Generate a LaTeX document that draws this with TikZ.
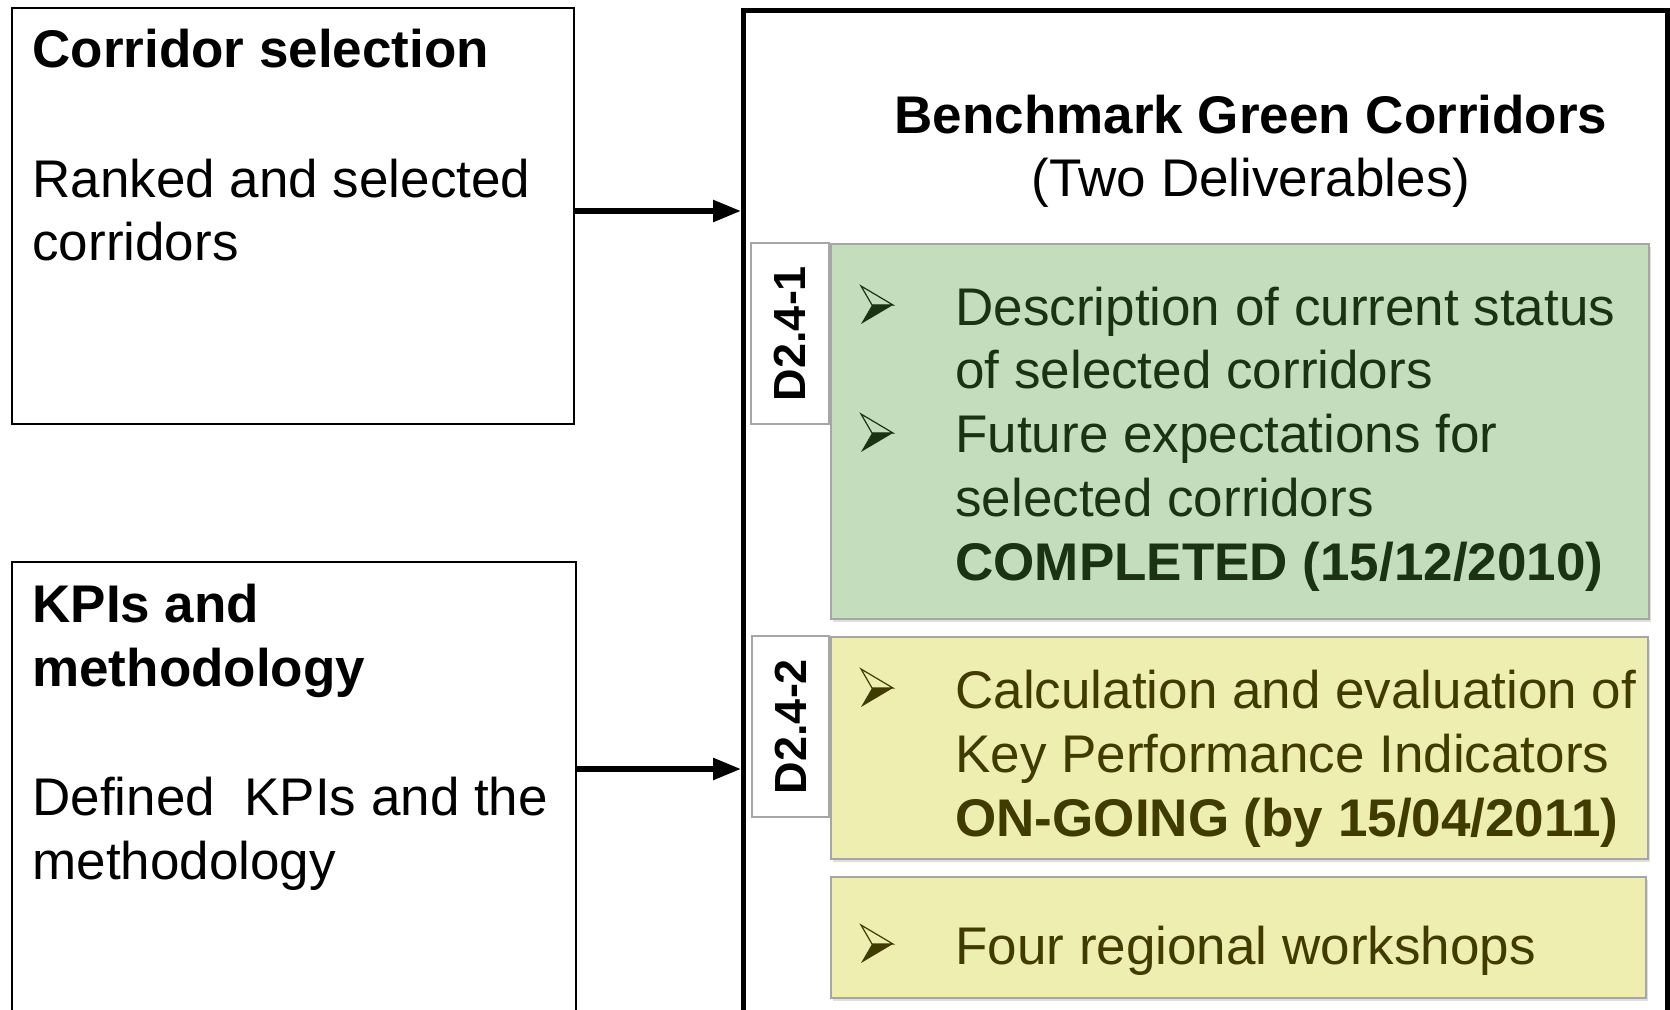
\documentclass[tikz,border=0pt]{standalone}
\usepackage{fontspec}
\setmainfont{Liberation Sans}
\usetikzlibrary{arrows.meta,shadows}

\definecolor{greenfill}{HTML}{C4DDBC}
\definecolor{greentext}{HTML}{1B3312}
\definecolor{yellowfill}{HTML}{EEEEB0}
\definecolor{yellowtext}{HTML}{403C00}
\definecolor{boxgray}{HTML}{A6A6A6}

\newcommand{\bigfont}{\fontsize{26.5pt}{31.8pt}\selectfont}
\newcommand{\tabfont}{\fontsize{22.5pt}{27pt}\selectfont\bfseries}

\tikzset{
  inbox/.style={draw, line width=1pt, anchor=north west, inner sep=0pt},
  outbox/.style={draw, line width=2.5pt, anchor=north west, inner sep=0pt},
  delbox/.style={draw=boxgray, line width=1pt, anchor=north west, inner sep=0pt,
    drop shadow={shadow xshift=1pt, shadow yshift=-1.5pt, opacity=.25}},
  tabbox/.style={draw=boxgray, fill=white, line width=1pt, inner sep=0pt,
    rotate=90, font=\tabfont},
  % base = baseline of the last line
  txt/.style={anchor=base west, inner sep=0pt, align=left, font=\bigfont},
  flow/.style={line width=2.8pt, -{Triangle[length=14pt, width=10.5pt]}},
  bul/.pic={
    \draw[line width=0.6pt, line join=miter] (0,-39) -- (32,-20) -- (11,-20) -- cycle;
    \fill (11,-20) -- (32,-20) -- (0,-1) -- cycle;
  }
}

\begin{document}
\begin{tikzpicture}[x=0.5pt, y=-0.5pt]
  \path[use as bounding box, clip] (0,0) rectangle (1670,1010);

  % LEFT BOXES
  \node[inbox, minimum width=281pt, minimum height=208pt] (corsel) at (11,7) {};
  \node[inbox, minimum width=282pt, minimum height=250pt] (kpi) at (11,561) {};

  \node[txt] (corseltitle) at (32,68) {\bfseries Corridor selection};
  \node[txt] (corseltext) at (32,261) {Ranked and selected\\corridors};
  \node[txt] (kpititle) at (32,686) {\bfseries KPIs and\\\bfseries methodology};
  \node[txt] (kpitext) at (32,879) {Defined\ \ KPIs and the\\methodology};

  % BIG BOX
  \node[outbox, minimum width=462pt, minimum height=520pt] (bench) at (741,8) {};
  \node[inner sep=0pt, anchor=base, align=center, font=\bigfont] (benchtitle) at (1251,197)
    {\bfseries Benchmark Green Corridors\\(Two Deliverables)};

  % D2.4-1
  \node[tabbox, minimum width=90.5pt, minimum height=39pt] (d241) at (790,333.5) {D2.4-1};
  \node[delbox, fill=greenfill, minimum width=409pt, minimum height=187.5pt] (status) at (830,243) {};
  \pic[color=greentext] at (861,325) {bul};
  \pic[color=greentext] at (861,453) {bul};
  \node[txt, text=greentext] (statustext) at (955,389) {Description of current status\\of selected corridors};
  \node[txt, text=greentext] (futuretext) at (955,580) {Future expectations for\\selected corridors\\\bfseries COMPLETED (15/12/2010)};

  % D2.4-2
  \node[tabbox, minimum width=90.5pt, minimum height=38.5pt] (d242) at (790.5,726.5) {D2.4-2};
  \node[delbox, fill=yellowfill, minimum width=408.5pt, minimum height=111pt] (kpicalc) at (830,636) {};
  \node[delbox, fill=yellowfill, minimum width=407.5pt, minimum height=60.5pt] (workshop) at (830,876) {};
  \pic[color=yellowtext] at (861,708) {bul};
  \pic[color=yellowtext] at (861,964) {bul};
  \node[txt, text=yellowtext] (kpicalctext) at (955,836) {Calculation and evaluation of\\Key Performance Indicators\\\bfseries ON-GOING (by 15/04/2011)};
  \node[txt, text=yellowtext] (workshoptext) at (955,964) {Four regional workshops};

  % FLECHES
  \coordinate (corselout) at (573,211);
  \coordinate (kpiout) at (575,769);
  \draw[flow] (corselout) -- (corselout -| bench.west);
  \draw[flow] (kpiout) -- (kpiout -| bench.west);
\end{tikzpicture}
\end{document}
